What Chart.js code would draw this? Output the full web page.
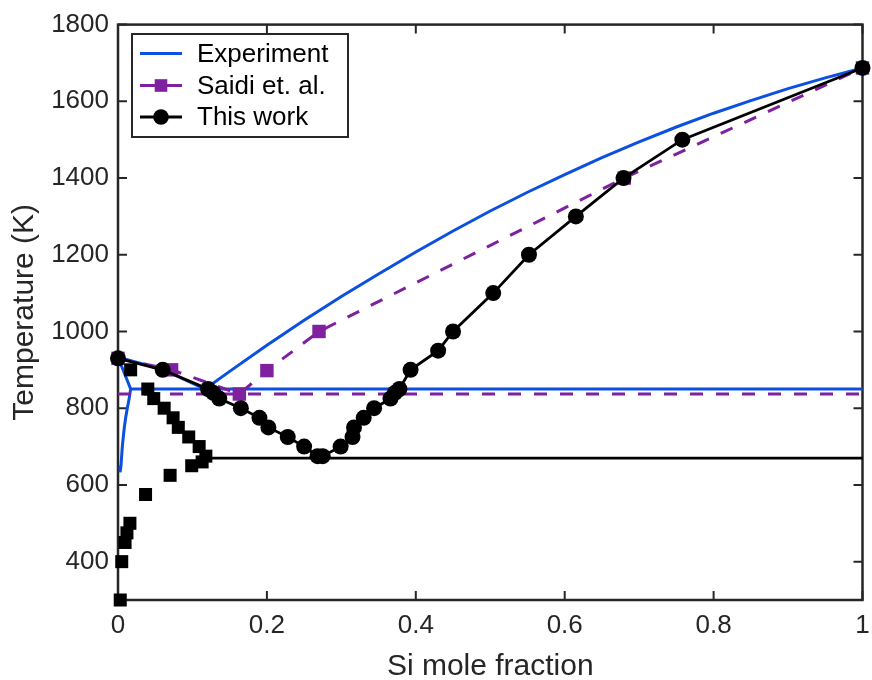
<!DOCTYPE html>
<html>
<head>
<meta charset="utf-8">
<script src="https://cdn.jsdelivr.net/npm/chart.js@4.4.0/dist/chart.umd.min.js"></script>
<style>
  html, body { margin: 0; padding: 0; background: #fff; }
</style>
</head>
<body>
<canvas id="chart" width="872" height="680"></canvas>
<script>
// Experiment (blue)
const expLiqAlX = [0, 0.06, 0.117];
const expLiqAlT = [933, 901, 850];
const expSolidusX = [0, 0.017, 0.015, 0.0125, 0.0103, 0.0085, 0.0071, 0.0058, 0.0049, 0.004, 0.0028];
const expSolidusT = [933, 850, 825, 800, 775, 750, 725, 700, 675, 650, 633];
const expEutecticX = [0.017, 1];
const expEutecticT = [850, 850];
const expLiqSiX = [0.117, 0.15, 0.2, 0.25, 0.3, 0.35, 0.4, 0.45, 0.5, 0.55, 0.6, 0.65, 0.7, 0.75, 0.8, 0.85, 0.9, 0.95, 1];
const expLiqSiT = [850, 896, 964, 1029, 1091, 1150, 1207, 1262, 1314, 1363, 1409, 1453, 1494, 1533, 1569, 1602, 1633, 1661, 1687];

// Saidi et. al. (purple)
const saidiX = [0, 0.072, 0.163, 0.2, 0.27, 0.68, 1];
const saidiT = [930, 900, 837, 898, 1000, 1400, 1687];
const saidiEutX = [0, 1];
const saidiEutT = [837, 837];

// This work (black)
const workX = [0, 0.06, 0.121, 0.128, 0.136, 0.165, 0.19, 0.202, 0.228, 0.25, 0.268, 0.275, 0.299, 0.315, 0.317, 0.33, 0.344, 0.366, 0.372, 0.378, 0.393, 0.43, 0.45, 0.504, 0.552, 0.615, 0.679, 0.758, 1];
const workT = [930, 900, 850, 840, 825, 800, 775, 750, 725, 700, 675, 675, 700, 725, 750, 775, 800, 825, 840, 850, 900, 950, 1000, 1100, 1200, 1300, 1400, 1500, 1687];
const workSolvusX = [0.017, 0.04, 0.048, 0.062, 0.074, 0.081, 0.095, 0.109, 0.118, 0.113, 0.099, 0.07, 0.037, 0.016, 0.012, 0.0095, 0.005, 0.003];
const workSolvusT = [900, 850, 825, 800, 775, 750, 725, 700, 675, 660, 650, 625, 575, 500, 475, 450, 400, 300];
const workEutX = [0.12, 1];
const workEutT = [670, 670];

const xTicks = [0, 0.2, 0.4, 0.6, 0.8, 1];
const yTicks = [400, 600, 800, 1000, 1200, 1400, 1600, 1800];

const BLUE = '#0B50E0';
const PURPLE = '#7E20A0';
const BLACK = '#000000';
const AXIS = '#262626';
const FONT = "'Liberation Sans', Arial, Helvetica, sans-serif";

const pts = (xs, ys) => xs.map((x, i) => ({ x, y: ys[i] }));

const lineSet = (data, color, extra) => Object.assign({
  data,
  borderColor: color,
  backgroundColor: color,
  borderWidth: 3,
  pointRadius: 0,
  pointHoverRadius: 0,
  showLine: true,
  fill: false,
  tension: 0,
  clip: false,
}, extra);

const datasets = [
  // black on top
  lineSet(pts(workX, workT), BLACK, { borderWidth: 2.8, pointRadius: 8, pointHoverRadius: 8, pointStyle: 'circle', pointBorderWidth: 0, order: 0 }),
  lineSet(pts(workSolvusX, workSolvusT), BLACK, { showLine: false, pointRadius: 9.2, pointHoverRadius: 9.2, pointStyle: 'rect', pointBorderWidth: 0, order: 1 }),
  lineSet(pts(workEutX, workEutT), BLACK, { borderWidth: 2.8, order: 2 }),
  // purple
  lineSet(pts(saidiX, saidiT), PURPLE, { borderDash: [13, 13], pointRadius: 9.5, pointHoverRadius: 9.5, pointStyle: 'rect', pointBorderWidth: 0, order: 3 }),
  lineSet(pts(saidiEutX, saidiEutT), PURPLE, { borderDash: [13, 13], order: 4 }),
  // blue
  lineSet(pts(expLiqAlX, expLiqAlT), BLUE, { order: 5 }),
  lineSet(pts(expSolidusX, expSolidusT), BLUE, { order: 5 }),
  lineSet(pts(expEutecticX, expEutecticT), BLUE, { order: 5 }),
  lineSet(pts(expLiqSiX, expLiqSiT), BLUE, { order: 5 }),
];

// MATLAB-style box, inward ticks and legend
const frame = {
  id: 'frame',
  beforeDatasetsDraw(chart) {
    const { ctx, chartArea: a, scales: { x, y } } = chart;
    ctx.save();
    ctx.strokeStyle = AXIS;
    ctx.lineWidth = 2.5;
    ctx.strokeRect(a.left, a.top, a.right - a.left, a.bottom - a.top);
    ctx.lineWidth = 2;
    ctx.beginPath();
    xTicks.forEach(v => {
      const px = x.getPixelForValue(v);
      ctx.moveTo(px, a.bottom); ctx.lineTo(px, a.bottom - 9);
      ctx.moveTo(px, a.top); ctx.lineTo(px, a.top + 9);
    });
    yTicks.forEach(v => {
      const py = y.getPixelForValue(v);
      ctx.moveTo(a.left, py); ctx.lineTo(a.left + 9, py);
      ctx.moveTo(a.right, py); ctx.lineTo(a.right - 9, py);
    });
    ctx.stroke();
    ctx.restore();
  },
  afterDraw(chart) {
    const ctx = chart.ctx;
    ctx.save();
    ctx.fillStyle = '#fff';
    ctx.fillRect(132, 34, 216, 103);
    ctx.strokeStyle = AXIS;
    ctx.lineWidth = 2;
    ctx.strokeRect(132, 34, 216, 103);
    const items = [
      { label: 'Experiment', color: BLUE, marker: null, ly: 53.5, ty: 55 },
      { label: 'Saidi et. al.', color: PURPLE, marker: 'rect', ly: 85.5, ty: 86.5 },
      { label: 'This work', color: BLACK, marker: 'circle', ly: 117, ty: 118 },
    ];
    items.forEach(it => {
      ctx.strokeStyle = it.color;
      ctx.fillStyle = it.color;
      ctx.lineWidth = 3;
      ctx.beginPath();
      ctx.moveTo(140, it.ly);
      ctx.lineTo(182, it.ly);
      ctx.stroke();
      if (it.marker === 'rect') {
        ctx.fillRect(161 - 6.3, it.ly - 6.3, 12.6, 12.6);
      } else if (it.marker === 'circle') {
        ctx.beginPath();
        ctx.arc(161, it.ly, 7.8, 0, Math.PI * 2);
        ctx.fill();
      }
      ctx.fillStyle = '#000';
      ctx.font = '26px ' + FONT;
      ctx.textAlign = 'left';
      ctx.textBaseline = 'middle';
      ctx.fillText(it.label, 197, it.ty);
    });
    ctx.restore();
  }
};

new Chart(document.getElementById('chart'), {
  type: 'scatter',
  data: { datasets },
  options: {
    responsive: false,
    animation: false,
    events: [],
    layout: { padding: { top: 21, right: 6, bottom: 0, left: 0 } },
    plugins: { legend: { display: false }, tooltip: { enabled: false } },
    scales: {
      x: {
        type: 'linear',
        min: 0,
        max: 1,
        afterBuildTicks: s => { s.ticks = xTicks.map(v => ({ value: v })); },
        afterFit: s => { s.height = 80; s.paddingLeft = 0; s.paddingRight = 0; },
        grid: { display: false, drawTicks: false },
        border: { display: false },
        ticks: {
          color: AXIS,
          font: { family: FONT, size: 26 },
          padding: 10,
          maxRotation: 0,
          autoSkip: false,
          callback: v => String(+(+v).toFixed(1))
        },
        title: {
          display: true,
          text: 'Si mole fraction',
          color: AXIS,
          font: { family: FONT, size: 30, lineHeight: 0.91 },
          padding: 0
        }
      },
      y: {
        type: 'linear',
        min: 300,
        max: 1800,
        afterBuildTicks: s => { s.ticks = yTicks.map(v => ({ value: v })); },
        afterFit: s => { s.width = 118; },
        grid: { display: false, drawTicks: false },
        border: { display: false },
        ticks: {
          color: AXIS,
          font: { family: FONT, size: 26 },
          padding: 9,
          autoSkip: false,
          callback: v => String(v)
        },
        title: {
          display: true,
          text: 'Temperature (K)',
          color: AXIS,
          font: { family: FONT, size: 30, lineHeight: 0.91 },
          padding: { top: 11.5, bottom: 0 }
        }
      }
    }
  },
  plugins: [frame]
});
</script>
</body>
</html>
